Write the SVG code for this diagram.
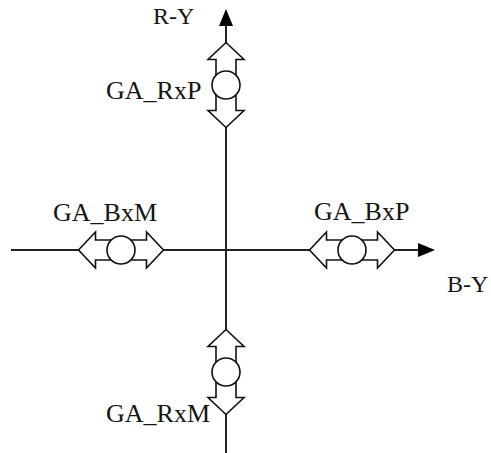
<svg xmlns="http://www.w3.org/2000/svg" xmlns:xlink="http://www.w3.org/1999/xlink" width="491" height="453" viewBox="0 0 491 453">
<style>
.axis{stroke:#222;stroke-width:2;fill:none}
.shape{fill:#fff;stroke:#111;stroke-width:1.6;stroke-linejoin:miter}
.lbl{font-family:"Liberation Serif","Times New Roman",serif;font-size:24px;fill:#151515}
.ga{font-size:26px}
</style>
<defs>
<g id="dbl">
<path class="shape" d="M -42.5 0 L -25.5 -18 L -25.5 -10 L 25.5 -10 L 25.5 -18 L 42.5 0 L 25.5 18 L 25.5 10 L -25.5 10 L -25.5 18 Z"/>
<circle class="shape" cx="0" cy="0" r="14"/>
</g>
</defs>
<g id="connectors">
<line class="axis" x1="226" y1="453" x2="226" y2="25"/>
<path d="M219,26 L226,9 L233,26 Z" fill="#000"/>
<line class="axis" x1="11" y1="250" x2="420" y2="250"/>
<path d="M418,243 L435,250 L418,257 Z" fill="#000"/>
</g>
<g id="GA_RxP">
<use xlink:href="#dbl" transform="translate(226,85) rotate(90)"/>
<text class="lbl ga" x="106" y="99">GA_RxP</text>
</g>
<g id="GA_RxM">
<use xlink:href="#dbl" transform="translate(226,372) rotate(90)"/>
<text class="lbl ga" x="106" y="422">GA_RxM</text>
</g>
<g id="GA_BxM">
<use xlink:href="#dbl" transform="translate(121,250)"/>
<text class="lbl ga" x="53" y="221">GA_BxM</text>
</g>
<g id="GA_BxP">
<use xlink:href="#dbl" transform="translate(352,250)"/>
<text class="lbl ga" x="314" y="220">GA_BxP</text>
</g>
<g id="R-Y">
<text class="lbl" x="153" y="24">R-Y</text>
</g>
<g id="B-Y">
<text class="lbl" x="447" y="292">B-Y</text>
</g>
</svg>
